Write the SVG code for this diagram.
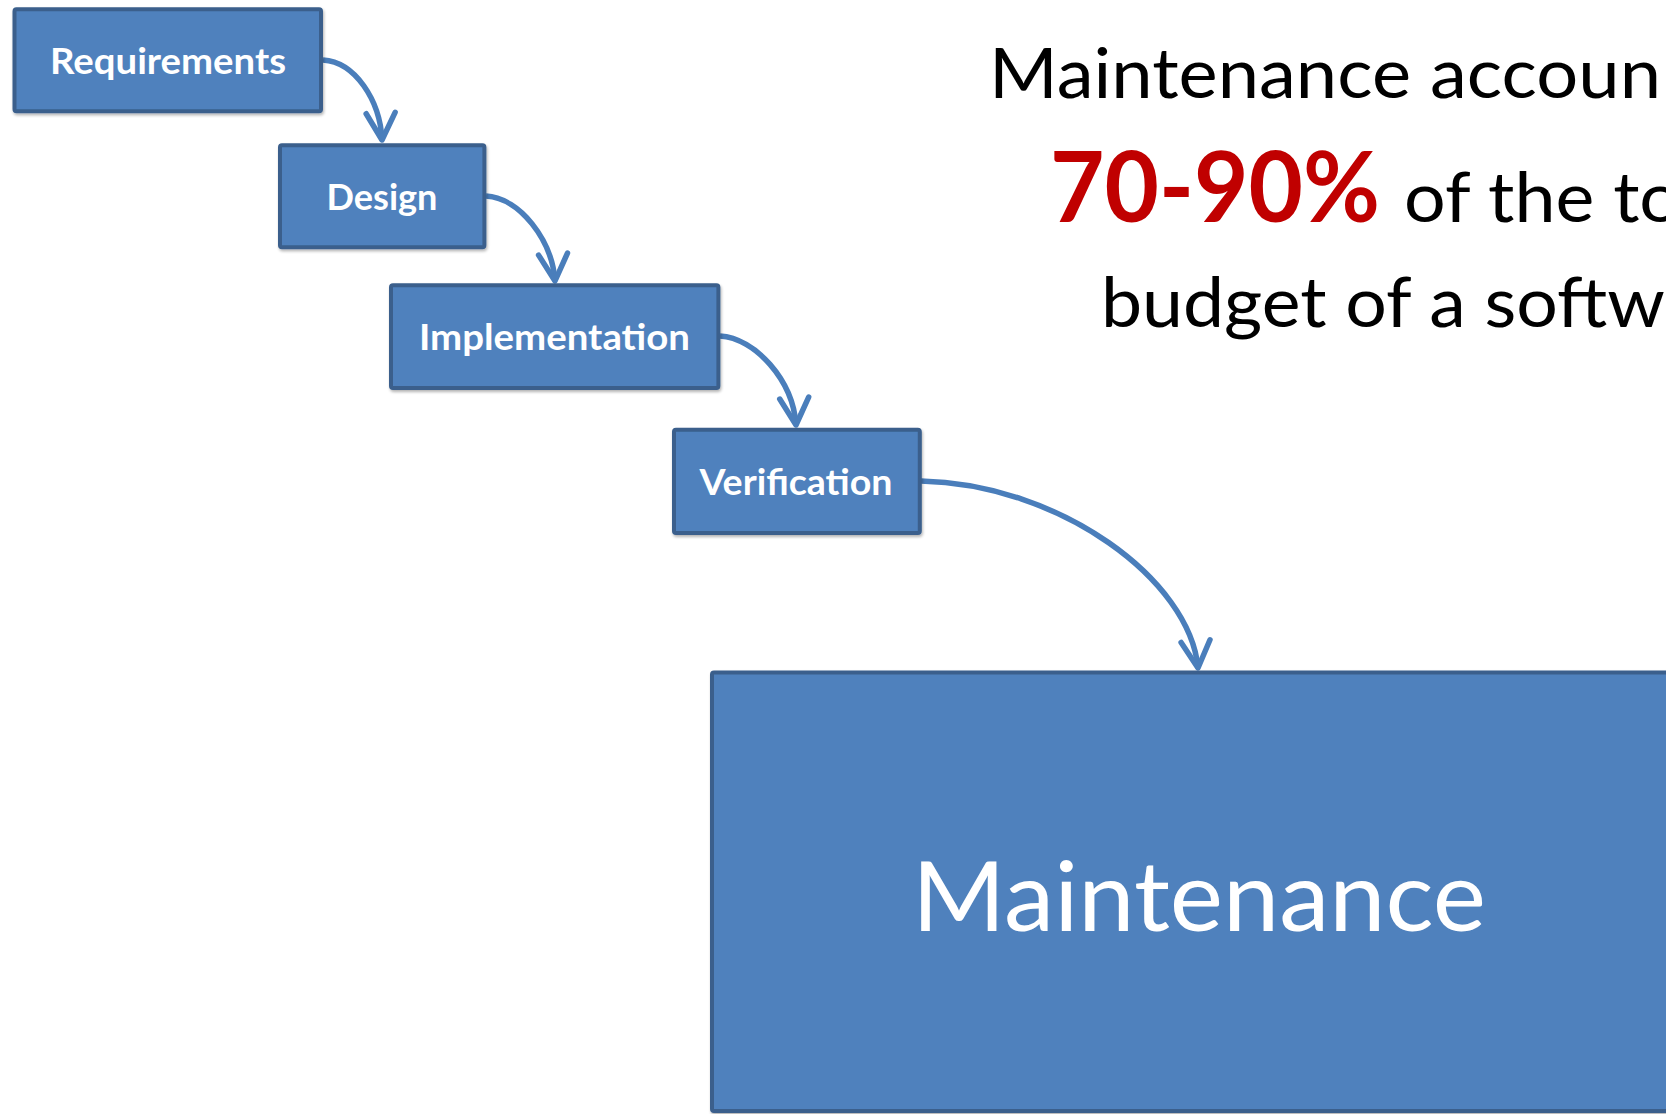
<svg xmlns="http://www.w3.org/2000/svg" width="1666" height="1114" viewBox="0 0 1666 1114">
<style>
.box{fill:#4F81BD;stroke:#3A5F8C;stroke-width:4}
.lbl{font-family:Lato,"Open Sans","Liberation Sans",sans-serif;font-weight:bold;font-size:36px;fill:#FFFFFF;text-anchor:middle}
.big{font-family:Lato,"Open Sans","Liberation Sans",sans-serif;font-size:96px;fill:#FFFFFF;text-anchor:middle}
.cap{font-family:Lato,"Open Sans","Liberation Sans",sans-serif;font-size:70px;fill:#000000}
.red{font-family:Lato,"Open Sans","Liberation Sans",sans-serif;font-size:98px;font-weight:bold;fill:#C00000}
.conn{fill:none;stroke:#4A7EBB;stroke-width:5.5;marker-end:url(#arr)}
</style>
<defs>
<filter id="sh" x="-10%" y="-10%" width="130%" height="130%">
<feGaussianBlur in="SourceAlpha" stdDeviation="1.5"/>
<feOffset dx="1" dy="2" result="b"/>
<feComponentTransfer><feFuncA type="linear" slope="0.3"/></feComponentTransfer>
<feMerge><feMergeNode/><feMergeNode in="SourceGraphic"/></feMerge>
</filter>
<marker id="arr" markerUnits="userSpaceOnUse" orient="auto" overflow="visible" refX="0" refY="0" markerWidth="40" markerHeight="40">
<path d="M-27,-14.5 L0,0 L-27,14.5" fill="none" stroke="#4A7EBB" stroke-width="5.5" stroke-linecap="round" stroke-linejoin="round"/>
</marker>
</defs>
<rect width="1666" height="1114" fill="#FFFFFF"/>
<g id="connectors">
<path class="conn" d="M323,60 C355,62 380,100 382,140"/>
<path class="conn" d="M486,196 C520,198 552,240 555,281"/>
<path class="conn" d="M720,336 C755,338 793,380 796,425"/>
<path class="conn" d="M921,481 C1060,484 1190,580 1198,668"/>
</g>
<g id="requirements">
<rect class="box" x="14.5" y="9.3" width="306.5" height="102" rx="2" filter="url(#sh)"/>
<text class="lbl" x="168" y="74" textLength="236" lengthAdjust="spacingAndGlyphs">Requirements</text>
</g>
<g id="design">
<rect class="box" x="280" y="145.3" width="204.4" height="102" rx="2" filter="url(#sh)"/>
<text class="lbl" x="382" y="210" textLength="111" lengthAdjust="spacingAndGlyphs">Design</text>
</g>
<g id="implementation">
<rect class="box" x="391" y="285.3" width="327.4" height="102.7" rx="2" filter="url(#sh)"/>
<text class="lbl" x="554.5" y="350" textLength="271" lengthAdjust="spacingAndGlyphs">Implementation</text>
</g>
<g id="verification">
<rect class="box" x="674" y="429.7" width="245.8" height="103.3" rx="2" filter="url(#sh)"/>
<text class="lbl" x="796" y="495" textLength="193" lengthAdjust="spacingAndGlyphs">Verification</text>
</g>
<g id="maintenance">
<rect class="box" x="712" y="672.4" width="1000" height="438.6" rx="2" filter="url(#sh)"/>
<text class="big" x="1199" y="931" textLength="574" lengthAdjust="spacingAndGlyphs">Maintenance</text>
</g>
<g id="caption">
<text class="cap" x="989" y="98" textLength="672" lengthAdjust="spacingAndGlyphs">Maintenance accoun</text>
<text class="red" x="1050" y="222" textLength="330" lengthAdjust="spacingAndGlyphs">70-90%</text>
<text class="cap" x="1404" y="222" textLength="277" lengthAdjust="spacingAndGlyphs">of the to</text>
<text class="cap" x="1101" y="327" textLength="564" lengthAdjust="spacingAndGlyphs">budget of a softw</text>
</g>
</svg>
